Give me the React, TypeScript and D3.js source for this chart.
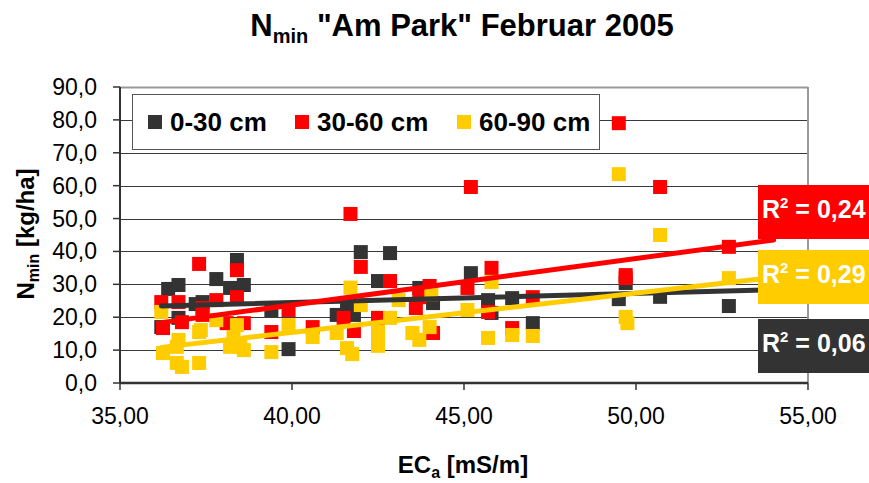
import React from "react";
import * as d3 from "d3";

// Soil depth layers
const depthLabels = ["0-30 cm", "30-60 cm", "60-90 cm"];
const depthColors = ["#333333", "#ff0000", "#ffcc00"];

// EC_a [mS/m] and N_min [kg/ha] per sampling point, 0-30 cm
const ecTop = [36.2, 36.4, 36.7, 36.7, 37.2, 37.4, 37.8, 38.2, 38.4, 38.6, 39.4, 39.9, 41.3, 41.6, 41.8, 42.0, 42.5, 42.85, 43.7, 44.1, 45.2, 45.7, 45.8, 46.4, 47.0, 49.5, 49.7, 50.7, 52.7];
const nTop = [17.0, 28.6, 29.8, 19.8, 24.0, 24.6, 31.6, 28.9, 37.4, 29.8, 22.2, 10.3, 20.7, 23.1, 20.7, 39.8, 31.0, 39.5, 28.9, 24.3, 33.4, 25.2, 21.3, 25.8, 18.2, 25.5, 30.4, 26.2, 23.4];

// 30-60 cm
const ecMid = [36.2, 36.25, 36.7, 36.8, 37.3, 37.4, 37.4, 37.8, 38.1, 38.4, 38.4, 38.6, 39.4, 39.9, 40.6, 41.5, 41.7, 41.8, 42.0, 42.5, 42.85, 43.6, 43.7, 44.0, 44.1, 45.1, 45.2, 45.7, 45.8, 46.4, 47.0, 49.5, 49.7, 49.7, 50.7, 52.7];
const nMid = [24.6, 16.7, 24.6, 18.5, 36.2, 20.7, 22.8, 25.2, 18.2, 34.3, 26.1, 18.2, 15.5, 22.2, 17.0, 19.8, 51.4, 15.8, 35.3, 19.8, 31.0, 22.8, 26.1, 29.5, 15.2, 28.9, 59.6, 21.6, 35.0, 16.7, 26.1, 79.0, 32.8, 31.9, 59.6, 41.4];

// 60-90 cm
const ecLow = [36.2, 36.25, 36.65, 36.65, 36.7, 36.8, 37.3, 37.3, 37.35, 37.8, 38.2, 38.3, 38.4, 38.5, 38.6, 39.4, 39.9, 40.6, 41.3, 41.6, 41.7, 41.75, 42.0, 42.5, 42.5, 42.85, 43.1, 43.5, 43.7, 44.0, 44.05, 45.1, 45.7, 45.8, 46.4, 47.0, 49.5, 49.7, 49.75, 50.7, 52.7];
const nLow = [21.6, 9.1, 6.1, 11.0, 13.1, 4.9, 6.1, 15.5, 16.1, 19.1, 11.0, 14.0, 17.6, 11.0, 10.0, 9.4, 17.6, 14.0, 15.2, 10.6, 29.0, 8.8, 23.7, 15.5, 11.3, 19.8, 25.2, 15.2, 13.1, 17.0, 27.0, 22.2, 13.7, 30.7, 14.6, 14.3, 63.5, 20.1, 18.2, 45.0, 31.9];

// Linear trend lines (N = slope * EC + intercept) and their R²
const trendSlopes = [0.28, 1.413, 1.197];
const trendIntercepts = [13.26, -32.8, -32.5];
const trendRange = [36.2, 54.0];
const rSquaredLabels = ["0,06", "0,24", "0,29"];

const xTicks = [35, 40, 45, 50, 55];
const yTicks = [0, 10, 20, 30, 40, 50, 60, 70, 80, 90];

const W = 869;
const H = 483;
const FONT = "'Liberation Sans', Arial, sans-serif";

export default function App() {
  const x = d3.scaleLinear().domain([35, 55]).range([120, 808]);
  const y = d3.scaleLinear().domain([0, 90]).range([383, 87]);
  const fx = (v: number) => d3.format(".2f")(v).replace(".", ",");
  const fy = (v: number) => d3.format(".1f")(v).replace(".", ",");

  const series = [
    { xs: ecTop, ys: nTop },
    { xs: ecMid, ys: nMid },
    { xs: ecLow, ys: nLow },
  ];
  const sq = 14;
  const trendLine = d3.line<number>().x((v) => x(v));

  // R² boxes: top edge of each box, per depth layer
  const labelTops = [319, 185, 250];
  // legend marker positions
  const legendX = [148, 295, 457];

  return (
    <svg
      width={W}
      height={H}
      style={{ position: "absolute", left: 0, top: 0, background: "#fff" }}
      fontFamily={FONT}
    >
      <rect x={0} y={0} width={W} height={H} fill="#fff" />

      {/* title */}
      <text x={462} y={36} textAnchor="middle" fontSize={31} fontWeight="bold" fill="#000">
        N<tspan fontSize={20} dy={7}>min</tspan>
        <tspan dy={-7}> "Am Park" Februar 2005</tspan>
      </text>

      {/* grid */}
      {yTicks.map((t) => (
        <line
          key={"g" + t}
          x1={x(35)}
          x2={x(55)}
          y1={Math.round(y(t)) + 0.5}
          y2={Math.round(y(t)) + 0.5}
          stroke={t === 90 ? "#999" : "#3a3a3a"}
          strokeWidth={t === 90 ? 2 : 1}
        />
      ))}
      <line x1={x(55)} x2={x(55)} y1={y(90)} y2={y(0)} stroke="#999" strokeWidth={2} />

      {/* y axis */}
      <line x1={x(35)} x2={x(35)} y1={y(90)} y2={y(0)} stroke="#333" strokeWidth={2} />
      {yTicks.map((t) => (
        <g key={"y" + t}>
          <line x1={x(35) - 7} x2={x(35)} y1={y(t)} y2={y(t)} stroke="#333" strokeWidth={1.5} />
          <text x={97} y={y(t) + 8} textAnchor="end" fontSize={23} fill="#000">
            {fy(t)}
          </text>
        </g>
      ))}

      {/* x axis */}
      <line x1={x(35)} x2={x(55)} y1={y(0)} y2={y(0)} stroke="#333" strokeWidth={2.5} />
      {xTicks.map((t) => (
        <g key={"x" + t}>
          <line x1={x(t)} x2={x(t)} y1={y(0)} y2={y(0) + 7} stroke="#333" strokeWidth={1.5} />
          <text x={x(t)} y={424} textAnchor="middle" fontSize={23} fill="#000">
            {fx(t)}
          </text>
        </g>
      ))}

      {/* axis titles */}
      <text x={463} y={473} textAnchor="middle" fontSize={24} fontWeight="bold" fill="#000">
        EC<tspan fontSize={16} dy={5}>a</tspan>
        <tspan dy={-5}> [mS/m]</tspan>
      </text>
      <text
        transform="translate(34,234) rotate(-90)"
        textAnchor="middle"
        fontSize={24}
        fontWeight="bold"
        fill="#000"
      >
        N<tspan fontSize={16} dy={5}>min</tspan>
        <tspan dy={-5}> [kg/ha]</tspan>
      </text>

      {/* points */}
      {series.map((s, si) =>
        s.xs.map((v, i) => (
          <rect
            key={si + "-" + i}
            x={x(v) - sq / 2}
            y={y(s.ys[i]) - sq / 2}
            width={sq}
            height={sq}
            fill={depthColors[si]}
          />
        ))
      )}

      {/* trend lines */}
      {trendSlopes.map((m, si) => (
        <path
          key={"t" + si}
          d={trendLine.y((v) => y(m * v + trendIntercepts[si]))(trendRange) || ""}
          stroke={depthColors[si]}
          strokeWidth={5}
          strokeLinecap="round"
          fill="none"
        />
      ))}

      {/* R² labels */}
      {rSquaredLabels.map((r, si) => (
        <g key={"r" + si}>
          <rect x={758} y={labelTops[si]} width={120} height={54} fill={depthColors[si]} />
          <text x={762} y={labelTops[si] + 33} fontSize={25} fontWeight="bold" fill="#fff">
            R<tspan fontSize={15} dy={-10}>2</tspan>
            <tspan dy={10}> = {r}</tspan>
          </text>
        </g>
      ))}

      {/* legend */}
      <rect x={132.5} y={94.5} width={467} height={55} fill="#fff" stroke="#555" strokeWidth={1} />
      {depthLabels.map((lab, i) => (
        <g key={"l" + i}>
          <rect x={legendX[i]} y={115} width={14} height={14} fill={depthColors[i]} />
          <text x={legendX[i] + 22} y={131} fontSize={26} fontWeight="bold" fill="#000">
            {lab}
          </text>
        </g>
      ))}
    </svg>
  );
}
